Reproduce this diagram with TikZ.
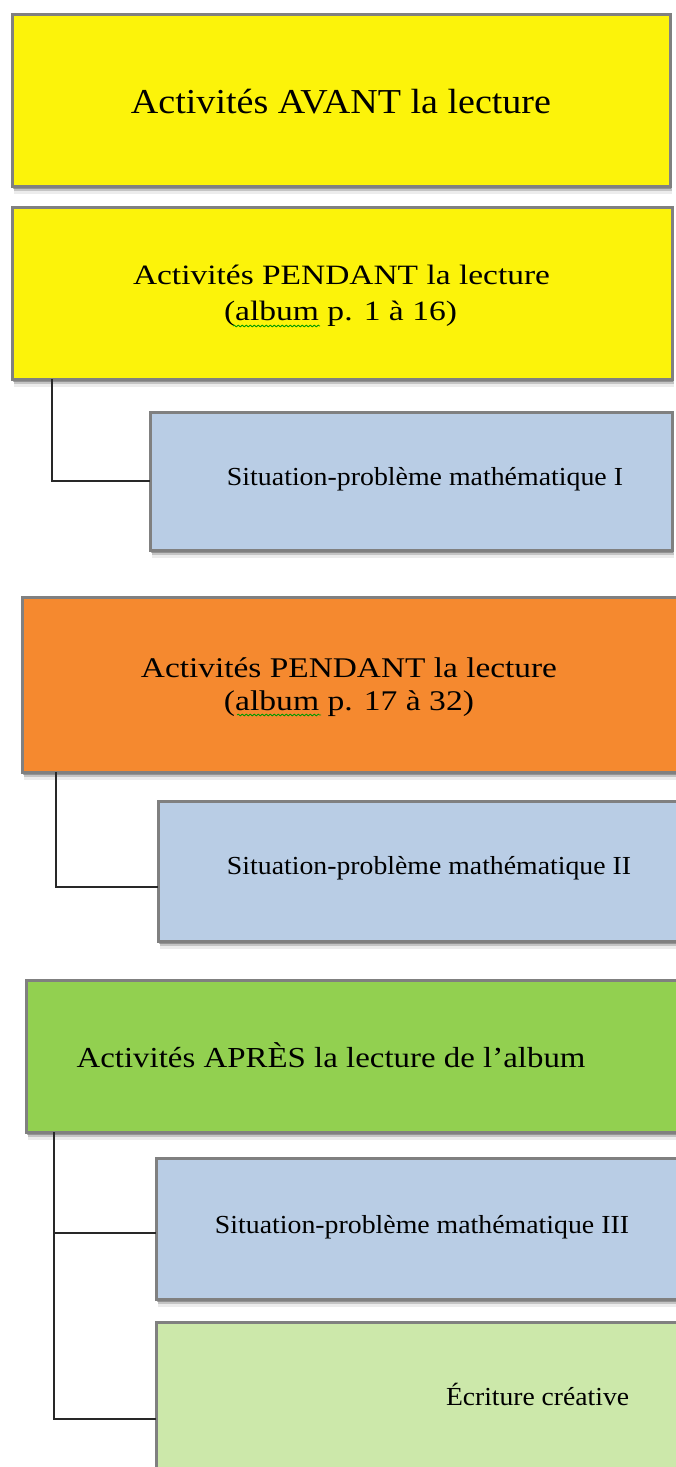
\documentclass[tikz,border=0pt]{standalone}
\usepackage{fontspec}
\setmainfont{Liberation Serif}
\usepackage{graphicx}
\usetikzlibrary{shadows,decorations.pathmorphing}
\definecolor{cyellow}{RGB}{252,243,10}
\definecolor{corange}{RGB}{245,137,47}
\definecolor{cblue}{RGB}{185,205,229}
\definecolor{cgreen}{RGB}{146,208,80}
\definecolor{clgreen}{RGB}{204,232,170}
\definecolor{cborder}{RGB}{128,128,128}
\definecolor{cline}{RGB}{40,40,40}
\tikzset{
  box/.style={rectangle, draw=cborder, line width=3pt, anchor=north west, inner sep=0pt, outer sep=0pt,
    drop shadow={shadow xshift=1pt, shadow yshift=-2.5pt, opacity=.40, fill=black!70},
    drop shadow={shadow xshift=1.5pt, shadow yshift=-5pt, opacity=.25, fill=black!70},
    drop shadow={shadow xshift=2pt, shadow yshift=-8pt, opacity=.10, fill=black!70}},
  conn/.style={draw=cline, line width=1.6pt},
  txt/.style={anchor=base, inner sep=0pt, text=black},
  spell/.style={draw=green!60!black, line width=0.8pt, decorate, decoration={snake, amplitude=0.9pt, segment length=4pt}}
}
\newcommand{\wtxt}[3]{\resizebox{#1pt}{\height}{\fontsize{#2}{#2}\selectfont #3}}
\begin{document}
\begin{tikzpicture}[x=1pt,y=-1pt]
\clip (0,0) rectangle (676,1467);
\fill[white] (0,0) rectangle (676,1467);
% boxes
\node[box, fill=cyellow, minimum width=658pt, minimum height=172pt] (b1) at (12,14) {};
\node[box, fill=cyellow, minimum width=660pt, minimum height=172pt] (b2) at (12,207) {};
\node[box, fill=cblue, minimum width=522pt, minimum height=138pt] (b3) at (150,412) {};
\node[box, fill=corange, minimum width=690pt, minimum height=175pt] (b4) at (22,597) {};
\node[box, fill=cblue, minimum width=560pt, minimum height=140pt] (b5) at (158,801) {};
\node[box, fill=cgreen, minimum width=690pt, minimum height=152pt] (b6) at (26,980) {};
\node[box, fill=cblue, minimum width=560pt, minimum height=141pt] (b7) at (156,1158) {};
\node[box, fill=clgreen, minimum width=560pt, minimum height=194pt] (b8) at (156,1322) {};
% texts
\node[txt] (t1) at (341,113) {\wtxt{420}{35}{Activités AVANT la lecture}};
\node[txt] (t2a) at (341.5,284) {\wtxt{417}{28}{Activités PENDANT la lecture}};
\node[txt] (t2b) at (340.5,320) {\wtxt{233}{28}{(album p. 1 à 16)}};
\node[txt] (t3) at (425,485) {\wtxt{396}{26}{Situation-problème mathématique I}};
\node[txt] (t4a) at (349,677) {\wtxt{416}{28.5}{Activités PENDANT la lecture}};
\node[txt] (t4b) at (349,710) {\wtxt{250}{28.5}{(album p. 17 à 32)}};
\node[txt] (t5) at (429,874) {\wtxt{404}{26}{Situation-problème mathématique II}};
\node[txt] (t6) at (331,1067) {\wtxt{509}{29}{Activités APRÈS la lecture de l’album}};
\node[txt] (t7) at (422,1233) {\wtxt{414}{26}{Situation-problème mathématique III}};
\node[txt] (t8) at (537.5,1405) {\wtxt{183}{26}{Écriture créative}};
% spell-check underlines
\draw[spell] (233,326) -- (320,326);
\draw[spell] (237,715) -- (321,715);
% connectors
\draw[conn] ([xshift=40pt]b2.south west) |- (b3.west);
\draw[conn] ([xshift=34pt]b4.south west) |- ([yshift=-16pt]b5.west);
\coordinate (j) at ([xshift=28pt]b6.south west);
\draw[conn] (j) |- ([yshift=-4.5pt]b7.west);
\draw[conn] (j) |- (b8.west);
\end{tikzpicture}
\end{document}
